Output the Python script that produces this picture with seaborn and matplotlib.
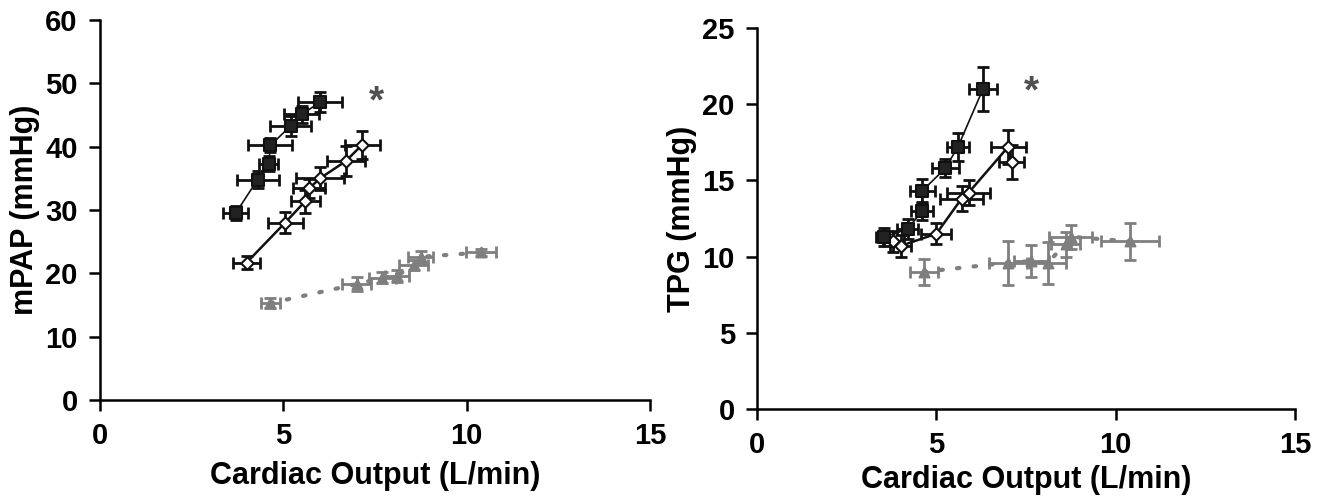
import numpy as np
import pandas as pd
import seaborn as sns
import matplotlib.pyplot as plt

# ------- data -------

# left panel: mPAP vs cardiac output
mpap_filled_co = [3.7, 4.3, 4.6, 4.65, 5.2, 5.5, 6.0]
mpap_filled_y = [29.5, 34.8, 37.3, 40.2, 43.3, 45.1, 47.0]
mpap_filled_xerr = [0.34, 0.57, 0.25, 0.6, 0.55, 0.48, 0.6]
mpap_filled_yerr = [1.1, 1.3, 1.2, 1.1, 1.6, 1.3, 1.6]

mpap_open_co = [4.0, 5.05, 5.6, 5.7, 6.0, 6.7, 7.15]
mpap_open_y = [21.7, 28.0, 31.4, 33.4, 35.0, 37.7, 40.3]
mpap_open_xerr = [0.36, 0.48, 0.4, 0.43, 0.65, 0.52, 0.48]
mpap_open_yerr = [1.0, 1.7, 1.8, 1.5, 1.8, 2.4, 2.2]

mpap_gray_co = [4.65, 7.0, 7.7, 8.1, 8.55, 8.75, 10.4]
mpap_gray_y = [15.3, 18.3, 19.3, 19.6, 21.3, 22.6, 23.3]
mpap_gray_xerr = [0.27, 0.39, 0.36, 0.32, 0.39, 0.34, 0.41]
mpap_gray_yerr = [0.8, 1.05, 0.9, 0.9, 0.8, 0.9, 0.6]

# right panel: TPG vs cardiac output
tpg_filled_co = [3.55, 4.2, 4.6, 4.6, 5.25, 5.6, 6.3]
tpg_filled_y = [11.3, 11.8, 13.0, 14.3, 15.8, 17.2, 21.0]
tpg_filled_xerr = [0.23, 0.3, 0.3, 0.35, 0.37, 0.3, 0.4]
tpg_filled_yerr = [0.6, 0.66, 0.6, 0.77, 0.6, 0.93, 1.46]

tpg_open_co = [3.8, 4.0, 5.0, 5.7, 5.9, 7.0, 7.1]
tpg_open_y = [11.0, 10.7, 11.5, 13.8, 14.2, 17.2, 16.2]
tpg_open_xerr = [0.3, 0.3, 0.42, 0.6, 0.6, 0.49, 0.35]
tpg_open_yerr = [0.7, 0.7, 0.7, 0.8, 0.8, 1.1, 1.1]

tpg_gray_co = [4.65, 7.0, 7.65, 8.1, 8.6, 8.75, 10.4]
tpg_gray_y = [9.0, 9.6, 9.7, 9.6, 10.8, 11.3, 11.0]
tpg_gray_xerr = [0.4, 0.53, 0.5, 0.5, 0.4, 0.6, 0.8]
tpg_gray_yerr = [0.85, 1.45, 1.04, 1.37, 0.8, 0.8, 1.2]

star_left = (7.55, 47.0)
star_right = (7.65, 20.8)

# ------- styling -------

sns.set_style("ticks")
plt.rcParams['font.family'] = ['Liberation Sans', 'DejaVu Sans']
plt.rcParams['font.weight'] = 'bold'
plt.rcParams['axes.labelweight'] = 'bold'
plt.rcParams['text.color'] = 'black'
plt.rcParams['axes.labelcolor'] = 'black'

black = '#111111'
gray = '#7f7f7f'
fs_tick = 21
fs_label = 22


def draw_series(ax, co, y, xerr, yerr, color, marker, face, ls, lw, ms):
    df = pd.DataFrame({'co': co, 'y': y})
    ax.errorbar(co, y, xerr=xerr, yerr=yerr, fmt='none', ecolor=color,
                elinewidth=2.0, capsize=4.5, capthick=2.0, zorder=2)
    sns.lineplot(data=df, x='co', y='y', ax=ax, sort=True, estimator=None,
                 color=color, linestyle=ls, linewidth=lw, zorder=3,
                 dash_capstyle='round', solid_capstyle='round')
    sns.scatterplot(data=df, x='co', y='y', ax=ax, marker=marker, s=ms,
                    color=face, edgecolor=color, linewidth=1.5, zorder=4)


fig = plt.figure(figsize=(13.31, 5), dpi=100)
ax1 = fig.add_axes([0.0751, 0.2, 0.4133, 0.76])
ax2 = fig.add_axes([0.5688, 0.182, 0.4042, 0.762])

# left
draw_series(ax1, mpap_gray_co, mpap_gray_y, mpap_gray_xerr, mpap_gray_yerr,
            gray, '^', gray, (0, (0.6, 3.4)), 3.0, 50)
draw_series(ax1, mpap_open_co, mpap_open_y, mpap_open_xerr, mpap_open_yerr,
            black, 'D', 'white', '-', 1.8, 40)
draw_series(ax1, mpap_filled_co, mpap_filled_y, mpap_filled_xerr, mpap_filled_yerr,
            black, 's', '#222222', '-', 1.2, 80)
ax1.text(*star_left, '*', fontsize=28, color='#505050', ha='center', va='center')
ax1.set_xlim(0, 15)
ax1.set_ylim(0, 60)
ax1.set_xticks([0, 5, 10, 15])
ax1.set_yticks(range(0, 61, 10))
ax1.set_xlabel('Cardiac Output (L/min)', fontsize=fs_label, labelpad=8)
ax1.set_ylabel('mPAP (mmHg)', fontsize=fs_label, labelpad=4)

# right
draw_series(ax2, tpg_gray_co, tpg_gray_y, tpg_gray_xerr, tpg_gray_yerr,
            gray, '^', gray, (0, (0.6, 3.4)), 3.0, 50)
draw_series(ax2, tpg_open_co, tpg_open_y, tpg_open_xerr, tpg_open_yerr,
            black, 'D', 'white', '-', 1.8, 40)
draw_series(ax2, tpg_filled_co, tpg_filled_y, tpg_filled_xerr, tpg_filled_yerr,
            black, 's', '#222222', '-', 1.2, 80)
ax2.text(*star_right, '*', fontsize=28, color='#505050', ha='center', va='center')
ax2.set_xlim(0, 15)
ax2.set_ylim(0, 25)
ax2.set_xticks([0, 5, 10, 15])
ax2.set_yticks(range(0, 26, 5))
ax2.set_xlabel('Cardiac Output (L/min)', fontsize=fs_label, labelpad=4)
ax2.set_ylabel('TPG (mmHg)', fontsize=fs_label, labelpad=4)

for ax in (ax1, ax2):
    sns.despine(ax=ax)
    for sp in ('left', 'bottom'):
        ax.spines[sp].set_linewidth(1.8)
        ax.spines[sp].set_color('black')
    ax.tick_params(axis='both', length=8, width=1.8, colors='black',
                   labelsize=fs_tick, pad=8)
    for lab in ax.get_xticklabels() + ax.get_yticklabels():
        lab.set_fontweight('bold')

fig.savefig('out.png', dpi=100)
